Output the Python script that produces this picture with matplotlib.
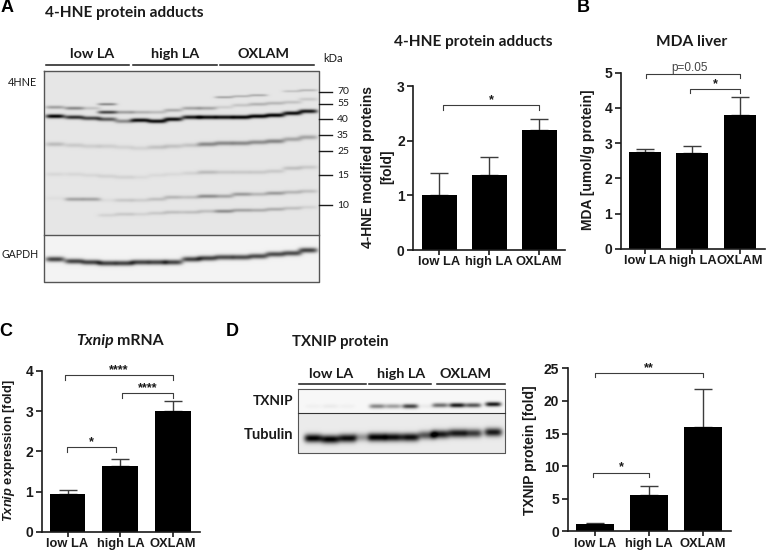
import matplotlib
matplotlib.use('Agg')
import matplotlib.pyplot as plt
import numpy as np

plt.rcParams['font.family'] = ['Liberation Sans', 'DejaVu Sans']
plt.rcParams['mathtext.fontset'] = 'custom'
plt.rcParams['mathtext.it'] = 'Liberation Sans:italic:bold'

W, H = 766, 552
TITLE_FONT = 'Lato'
DARK = '#1a1a1a'
GREY = '#3c3c3c'

#----------------------------------------------------------------------------------------#
# bar data (mean, upper end of the error bar)

groups = ['low LA', 'high LA', 'OXLAM']

hne_mean = [1.0, 1.38, 2.2]
hne_top = [1.41, 1.71, 2.39]

mda_mean = [2.76, 2.71, 3.8]
mda_top = [2.85, 2.92, 4.3]

txnip_mean = [0.93, 1.63, 3.0]
txnip_top = [1.03, 1.8, 3.25]

protein_mean = [1.1, 5.5, 16.0]
protein_top = [1.2, 7.0, 21.8]

# brackets: x0, x1, y, tip length, label
hne_brackets = [(0.08, 2.0, 2.65, 0.09, '*')]
mda_brackets = [(0.03, 2.0, 4.96, 0.12, 'p=0.05'), (0.96, 2.0, 4.53, 0.11, '*')]
txnip_brackets = [(-0.05, 2.0, 3.9, 0.12, '****'), (1.04, 2.0, 3.45, 0.12, '****'),
                  (-0.015, 0.915, 2.1, 0.12, '*')]
protein_brackets = [(0.0, 2.0, 24.3, 0.7, '**'), (-0.03, 1.0, 9.0, 0.7, '*')]

#----------------------------------------------------------------------------------------#
# blot bands, image pixels: one y and one darkness per lane

hne_lanes = [55, 74, 91, 107, 124, 140, 157, 173, 191, 207, 224, 241, 258, 275, 292, 308]
hne_bands = [
    ([116, 117, 118, 119, 121, 120, 121, 119, 117, 117, 117, 117, 116, 115, 113, 111],
     [1.0, .8, .7, .6, .4, .95, .95, .95, .9, .95, .95, 1, 1, 1, .95, .9], 2.0),
    ([107, 108, 108, 112, 112, 112, 112, 110, 108, 108, 107, 105, 104, 103, 102, 99],
     [.3, .4, .15, .7, .3, .22, .18, .25, .28, .28, .1, .14, .22, .2, .15, .12], 1.7),
    ([144, 145, 146, 146, 147, 148, 147, 146, 145, 144, 143, 143, 142, 141, 139, 137],
     [.18, .12, .1, .1, .08, .08, .15, .15, .15, .4, .4, .4, .38, .42, .28, .28], 2.2),
    ([174, 174, 175, 176, 177, 177, 175, 174, 173, 172, 172, 172, 172, 171, 168, 167],
     [.06, .06, .06, .08, .08, .05, .05, .05, .08, .18, .12, .12, .12, .12, .16, .12], 2.0),
    ([198, 199, 199, 200, 200, 200, 199, 197, 197, 196, 196, 194, 194, 193, 192, 191],
     [.03, .28, .28, .04, .12, .1, .16, .2, .16, .38, .28, .32, .2, .32, .2, .16], 1.9),
    ([217, 217, 216, 215, 214, 214, 213, 212, 212, 211, 211, 210, 210, 209, 208, 207],
     [0, 0, 0, .08, .12, .08, .12, .16, .16, .16, .38, .28, .24, .24, .16, .08], 1.8),
]
hne_extra_lane = [107]
hne_extra_y = [104]
hne_extra_dark = [.4]
hne_high_lanes = [224, 241, 258, 292, 308]
hne_high_y = [97, 96, 95, 91, 90]
hne_high_dark = [.28, .22, .25, .15, .2]

gapdh_y = [259, 261, 262, 263, 263, 262, 262, 262, 259, 258, 257, 257, 256, 254, 253, 250]
gapdh_dark = [.72, .72, .72, .72, .72, .72, .72, .72, .72, .72, .68, .68, .68, .68, .68, .72]

txnip_lanes = [313, 330, 347, 362, 377, 393, 410, 427, 440, 457, 473, 493]
txnip_y = [406, 406, 406, 406, 406, 406, 406, 406, 405, 405, 405, 404]
txnip_dark = [.03, .05, .03, 0, .45, .35, .72, .05, .55, .9, .65, .9]
tubulin_y = [438, 439, 438, 437, 437, 437, 437, 435, 434, 433, 433, 432]
tubulin_dark = [1, 1, .95, .35, 1, .95, .95, .65, .9, .9, .75, .9]

kda_labels = ['70', '55', '40', '35', '25', '15', '10']
kda_y = [92, 104, 119, 135, 151, 175, 205]


#----------------------------------------------------------------------------------------#

def blot_image(x0, x1, y0, y1, bg, bands, half_w):
    xs = np.arange(x0, x1, 0.5)
    ys = np.arange(y0, y1, 0.5)
    gx, gy = np.meshgrid(xs, ys)
    dark = np.zeros_like(gx)
    for lanes, band_y, band_dark, half_h in bands:
        for xc, yc, d in zip(lanes, band_y, band_dark):
            dark += d * np.exp(-((gx - xc) / half_w) ** 4) * np.exp(-((gy - yc) / half_h) ** 2)
    return np.clip(bg - dark * bg, 0.0, 1.0)


def draw_blot(ax, box, bg, bands, half_w=9.5):
    x0, x1, y0, y1 = box
    img = blot_image(x0, x1, y0, y1, bg, bands, half_w)
    ax.imshow(img, cmap='gray', vmin=0, vmax=1, extent=(x0, x1, y1, y0),
              aspect='auto', interpolation='bilinear', zorder=1)


def bar_panel(rect, means, tops, ylim, yticks, xlim, width, brackets):
    left, right, top, bottom = rect
    ax = fig.add_axes([left / W, 1 - bottom / H, (right - left) / W, (bottom - top) / H])
    ax.patch.set_alpha(0)
    pos = np.arange(len(means))
    ax.bar(pos, means, width=width, color='black', zorder=2)
    up = np.array(tops) - np.array(means)
    ax.errorbar(pos, means, yerr=[np.zeros(len(up)), up], fmt='none', ecolor=GREY,
                elinewidth=1.0, capsize=6.3, capthick=1.0, zorder=1)
    ax.set_xlim(*xlim)
    ax.set_ylim(*ylim)
    ax.set_yticks(yticks)
    ax.set_xticks(pos)
    ax.set_xticklabels(groups)
    for side in ['top', 'right']:
        ax.spines[side].set_visible(False)
    for side in ['left', 'bottom']:
        ax.spines[side].set_linewidth(1.2)
        ax.spines[side].set_color(DARK)
    ax.tick_params(axis='y', width=1.2, length=4, color=DARK, pad=2)
    ax.tick_params(axis='x', width=1.2, length=3.5, color=DARK, pad=1)
    for lab in ax.get_xticklabels():
        lab.set_fontweight('bold')
        lab.set_fontsize(9.3)
        lab.set_color(DARK)
    for lab in ax.get_yticklabels():
        lab.set_fontweight('bold')
        lab.set_fontsize(10)
        lab.set_color(DARK)
    for x0, x1, y, tip, label in brackets:
        ax.plot([x0, x0, x1, x1], [y - tip, y, y, y - tip], color=GREY, lw=0.8,
                clip_on=False, zorder=3)
        if label.startswith('p'):
            ax.text((x0 + x1) / 2 - 0.08, y, label, ha='center', va='bottom', fontsize=8.5,
                    color='#444444')
        else:
            ax.text((x0 + x1) / 2, y - 0.006 * (ylim[1] - ylim[0]), label, ha='center',
                    va='bottom', fontsize=9, color=DARK, fontweight='bold')
    return ax


fig = plt.figure(figsize=(W / 100, H / 100), dpi=100)
bg_ax = fig.add_axes([0, 0, 1, 1])
bg_ax.set_xlim(0, W)
bg_ax.set_ylim(H, 0)
bg_ax.axis('off')

#----------------------------------------------------------------------------------------#
# western blots

hne_all = [(hne_lanes, y, d, h) for y, d, h in hne_bands]
hne_all.append((hne_extra_lane, hne_extra_y, hne_extra_dark, 1.3))
hne_all.append((hne_high_lanes, hne_high_y, hne_high_dark, 1.2))
draw_blot(bg_ax, (44, 319, 71, 235), 0.9, hne_all)
draw_blot(bg_ax, (44, 319, 235, 282), 0.95, [(hne_lanes, gapdh_y, gapdh_dark, 2.6)])
bg_ax.plot([44, 319, 319, 44, 44], [71, 71, 282, 282, 71], color='#555555', lw=1.0, zorder=2)
bg_ax.plot([44, 319], [235, 235], color='#555555', lw=1.0, zorder=2)

draw_blot(bg_ax, (298, 505, 389, 413), 0.97, [(txnip_lanes, txnip_y, txnip_dark, 2.3)], half_w=8)
draw_blot(bg_ax, (298, 505, 413, 453), 0.92, [(txnip_lanes, tubulin_y, tubulin_dark, 4.2)], half_w=9)
bg_ax.plot([298, 505, 505, 298, 298], [389, 389, 453, 453, 389], color='#555555', lw=0.8, zorder=2)
bg_ax.plot([298, 505], [413, 413], color='#333333', lw=0.8, zorder=2)

# lane headers
for label, xc, x0, x1 in zip(groups, [92, 175, 263], [46, 133, 220], [129, 217, 314]):
    bg_ax.text(xc, 54, label, ha='center', va='center', fontsize=10.4, fontweight='bold',
               family=TITLE_FONT, color=DARK)
    bg_ax.plot([x0, x1], [65, 65], color=DARK, lw=1.1)
for label, xc, x0, x1 in zip(groups, [331, 401, 466], [299, 369, 437], [366, 431, 505]):
    bg_ax.text(xc, 374, label, ha='center', va='center', fontsize=10.4, fontweight='bold',
               family=TITLE_FONT, color=DARK)
    bg_ax.plot([x0, x1], [384, 384], color=DARK, lw=1.1)

for label, y in zip(kda_labels, kda_y):
    bg_ax.plot([319, 332], [y, y], color=DARK, lw=1.0)
    bg_ax.text(337, y, label, ha='left', va='center', fontsize=7.5, family=TITLE_FONT, color=DARK)
bg_ax.text(333, 59, 'kDa', ha='center', va='center', fontsize=8, family=TITLE_FONT, color=DARK)
bg_ax.text(22, 82, '4HNE', ha='center', va='center', fontsize=7.8, family=TITLE_FONT, color=DARK)
bg_ax.text(20, 255, 'GAPDH', ha='center', va='center', fontsize=7.6, family=TITLE_FONT, color=DARK)
bg_ax.text(293, 401, 'TXNIP', ha='right', va='center', fontsize=9.8, fontweight='bold',
           family=TITLE_FONT, color=DARK)
bg_ax.text(293, 435, 'Tubulin', ha='right', va='center', fontsize=10.5, fontweight='bold',
           family=TITLE_FONT, color=DARK)

#----------------------------------------------------------------------------------------#
# titles and panel letters

for label, x, y in [('A', 7, 8), ('B', 583, 8), ('C', 6, 331), ('D', 232, 331)]:
    bg_ax.text(x, y, label, ha='center', va='center', fontsize=13, fontweight='bold', color='black')

for label, x, y, ha, size in [('4-HNE protein adducts', 45, 13, 'left', 11.1),
                              ('4-HNE protein adducts', 473, 42, 'center', 11.1),
                              ('MDA liver', 692, 42, 'center', 11.2),
                              ('TXNIP protein', 292, 342, 'left', 10.8)]:
    bg_ax.text(x, y, label, ha=ha, va='center', fontsize=size, fontweight='bold',
               family=TITLE_FONT, color=DARK)
bg_ax.text(114, 341, 'Txnip', ha='right', va='center', fontsize=11.4, fontweight='bold',
           style='italic', family=TITLE_FONT, color=DARK)
bg_ax.text(117, 341, 'mRNA', ha='left', va='center', fontsize=11.4, fontweight='bold',
           family=TITLE_FONT, color=DARK)

# y labels
bg_ax.text(368, 167, '4-HNE modified proteins', rotation=90, ha='center', va='center',
           fontsize=10, fontweight='bold', color=DARK)
bg_ax.text(387, 167, '[fold]', rotation=90, ha='center', va='center', fontsize=10,
           fontweight='bold', color=DARK)
bg_ax.text(588, 160, 'MDA [umol/g protein]', rotation=90, ha='center', va='center',
           fontsize=10, fontweight='bold', color=DARK)
bg_ax.text(9, 451, r'$\mathit{Txnip}$ expression [fold]', rotation=90, ha='center', va='center',
           fontsize=9.3, fontweight='bold', color=DARK)
bg_ax.text(530, 450, 'TXNIP protein [fold]', rotation=90, ha='center', va='center',
           fontsize=10, fontweight='bold', color=DARK)

#----------------------------------------------------------------------------------------#
# bar charts

bar_panel((413, 565, 86, 250), hne_mean, hne_top, (0, 3), [0, 1, 2, 3], (-0.52, 2.52), 0.7, hne_brackets)
bar_panel((620.7, 765, 72.7, 249), mda_mean, mda_top, (0, 5), [0, 1, 2, 3, 4, 5], (-0.51, 2.53), 0.67, mda_brackets)
bar_panel((41.7, 200, 371, 531.7), txnip_mean, txnip_top, (0, 4), [0, 1, 2, 3, 4], (-0.49, 2.51), 0.68, txnip_brackets)
bar_panel((567.7, 731, 368.3, 531.3), protein_mean, protein_top, (0, 25), [0, 5, 10, 15, 20, 25], (-0.505, 2.52), 0.69, protein_brackets)

fig.savefig('out.png', dpi=100)
